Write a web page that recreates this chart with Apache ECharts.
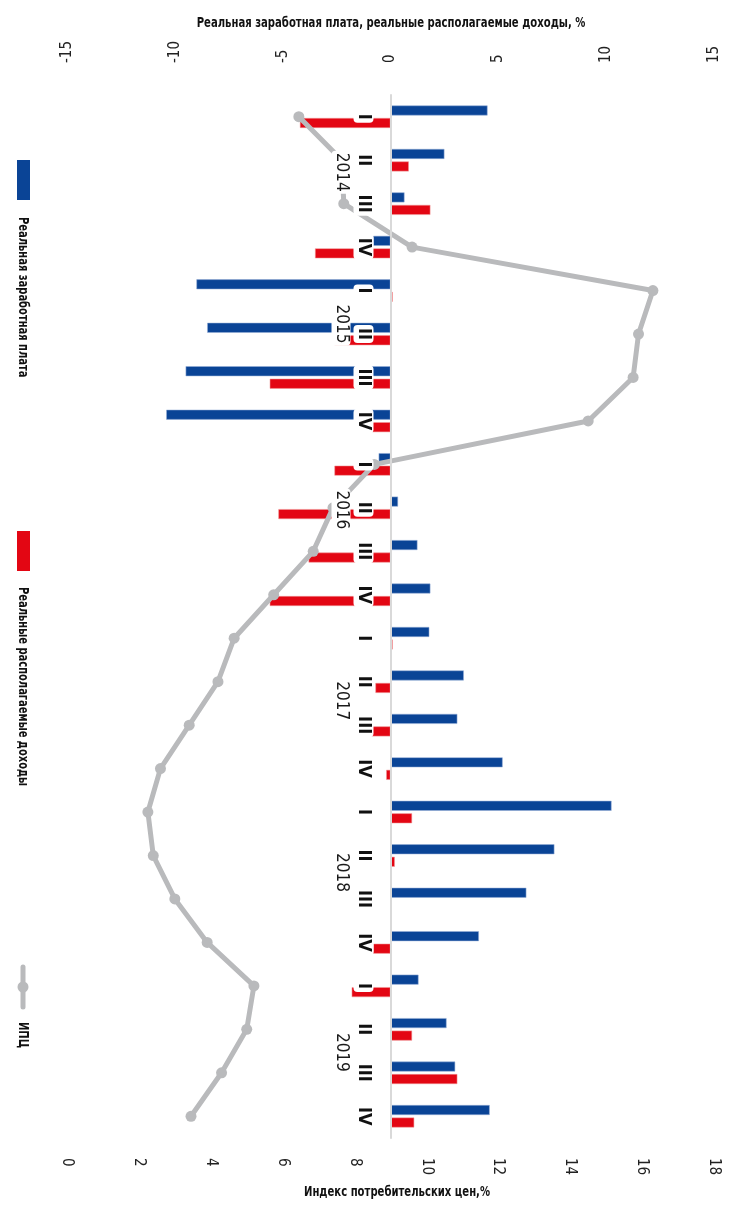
<!DOCTYPE html>
<html><head><meta charset="utf-8">
<script src="https://cdn.jsdelivr.net/npm/echarts@6/dist/echarts.min.js"></script>
<style>html,body{margin:0;padding:0;background:#fff}#c{width:729px;height:1206px}</style>
</head><body><div id="c"></div>
<script>
const years = ['2014','2015','2016','2017','2018','2019'];
const quarters = ['I','II','III','IV'];
const wages  = [4.5,2.5,0.65,-0.8, -9.0,-8.5,-9.5,-10.4, -0.55,0.35,1.25,1.85, 1.8,3.4,3.1,5.2, 10.25,7.6,6.3,4.1, 1.3,2.6,3.0,4.6];
const income = [-4.2,0.85,1.85,-3.5, 0.1,-2.6,-5.6,-0.85, -2.6,-5.2,-3.8,-5.6, 0.1,-0.7,-1.0,-0.2, 1.0,0.2,0,-0.8, -1.8,1.0,3.1,1.1];
const cpi    = [6.45,7.65,7.7,9.6, 16.3,15.9,15.75,14.5, 8.55,7.4,6.85,5.75, 4.65,4.2,3.4,2.6, 2.25,2.4,3.0,3.9, 5.2,5.0,4.3,3.45];
const barTicks = [-15,-10,-5,0,5,10,15];
const cpiTicks = [0,2,4,6,8,10,12,14,16,18];
const seriesNames = ['Реальная заработная плата','Реальные располагаемые доходы','ИПЦ'];
const barAxisName = 'Реальная заработная плата, реальные располагаемые доходы, %';
const cpiAxisName = 'Индекс потребительских цен,%';

const categories = [];
years.forEach(y => quarters.forEach(q => categories.push(y + ' ' + q)));

const BLUE = '#0a4496', RED = '#e30613', GRAY = '#b9babc';
const FONT = "'Liberation Sans Narrow','DejaVu Sans Condensed','Roboto',sans-serif";
const BOLD = "bold 14px 'DejaVu Sans Condensed','Roboto',sans-serif";
const yearShift = [12,-10,2,19,17,23];

const W = 729, H = 1206;
const G = { left: 67, right: 15, top: 95, bottom: 68 };
const barMin = barTicks[0], barMax = barTicks[barTicks.length-1];
const zeroOffset = -((0 - barMin) / (barMax - barMin)) * (W - G.left - G.right);

const rich = { y: { fontFamily: FONT, fontSize: 17, color: '#1a1a1a', backgroundColor: '#fff', borderRadius: 4, padding: [1,2] } };
yearShift.forEach((d,i) => { rich['p'+i] = { width: Math.abs(d)*2, fontSize: 17 }; });

function vtext(x, y, text, sx) {
  return { type: 'text', x: x, y: y, rotation: -Math.PI/2, scaleX: sx, z: 20,
    style: { text: text, font: BOLD, fill: '#111', align: 'left', verticalAlign: 'middle' } };
}
function htext(cx, cy, text, sx) {
  return { type: 'text', x: cx, y: cy, scaleX: sx, z: 20,
    style: { text: text, font: BOLD, fill: '#111', align: 'center', verticalAlign: 'middle' } };
}

const chart = echarts.init(document.getElementById('c'));
chart.setOption({
  animation: false,
  backgroundColor: '#fff',
  grid: { left: G.left, right: G.right, top: G.top, bottom: G.bottom, containLabel: false },
  xAxis: [
    { type: 'value', position: 'top', min: barMin, max: barMax, interval: barTicks[1]-barTicks[0],
      axisLine: { show: false }, axisTick: { show: false }, splitLine: { show: false },
      axisLabel: { rotate: -90, margin: 32, fontFamily: FONT, fontSize: 15, color: '#222' } },
    { type: 'value', position: 'bottom', min: cpiTicks[0], max: cpiTicks[cpiTicks.length-1], interval: cpiTicks[1]-cpiTicks[0],
      axisLine: { show: false }, axisTick: { show: false }, splitLine: { show: false },
      axisLabel: { rotate: -90, margin: 20, fontFamily: FONT, fontSize: 15, color: '#222' } }
  ],
  yAxis: [
    { type: 'category', inverse: true, data: categories, position: 'left', offset: zeroOffset, z: 10,
      axisLine: { onZero: false, lineStyle: { color: '#d9d9d9', width: 2 } },
      axisTick: { show: false },
      axisLabel: { interval: 0, rotate: -90, margin: 17, fontFamily: FONT, fontWeight: 'bold', fontSize: 18, color: '#111',
        backgroundColor: '#fff', borderRadius: 4, padding: [1,3],
        formatter: v => v.split(' ')[1] } },
    { type: 'category', inverse: true, data: categories, position: 'left', offset: zeroOffset, z: 11,
      axisLine: { show: false, onZero: false }, axisTick: { show: false },
      axisLabel: { interval: 0, rotate: -90, margin: 40, rich: rich,
        formatter: (v, i) => {
          if (i % 4 !== 1) return '';
          const k = Math.floor(i/4), d = yearShift[k], yr = v.split(' ')[0];
          return d >= 0 ? `{p${k}| }{y|${yr}}` : `{y|${yr}}{p${k}| }`;
        } } }
  ],
  series: [
    { name: seriesNames[0], type: 'bar', xAxisIndex: 0, yAxisIndex: 0, data: wages, barWidth: 10, barGap: '25%',
      itemStyle: { color: BLUE, borderColor: 'rgba(150,175,215,0.9)', borderWidth: 0.6 } },
    { name: seriesNames[1], type: 'bar', xAxisIndex: 0, yAxisIndex: 0, data: income, barWidth: 10, barGap: '25%',
      itemStyle: { color: RED, borderColor: 'rgba(240,150,150,0.9)', borderWidth: 0.6 } },
    { name: seriesNames[2], type: 'line', xAxisIndex: 1, yAxisIndex: 0, data: cpi, z: 3,
      symbol: 'circle', symbolSize: 11, lineStyle: { color: GRAY, width: 5 }, itemStyle: { color: GRAY } }
  ],
  graphic: [
    htext(391, 23, barAxisName, 0.8),
    htext(397, 1192, cpiAxisName, 0.8),
    { type: 'rect', shape: { x: 17, y: 160, width: 13, height: 40 }, style: { fill: BLUE } },
    vtext(23, 217, seriesNames[0], 0.79),
    { type: 'rect', shape: { x: 17, y: 531, width: 13, height: 40 }, style: { fill: RED } },
    vtext(23, 587, seriesNames[1], 0.79),
    { type: 'line', shape: { x1: 23, y1: 967, x2: 23, y2: 1007 }, style: { stroke: GRAY, lineWidth: 5, lineCap: 'round' } },
    { type: 'circle', shape: { cx: 23, cy: 987, r: 5.5 }, style: { fill: GRAY } },
    vtext(23, 1022, seriesNames[2], 0.79)
  ]
});
</script></body></html>
